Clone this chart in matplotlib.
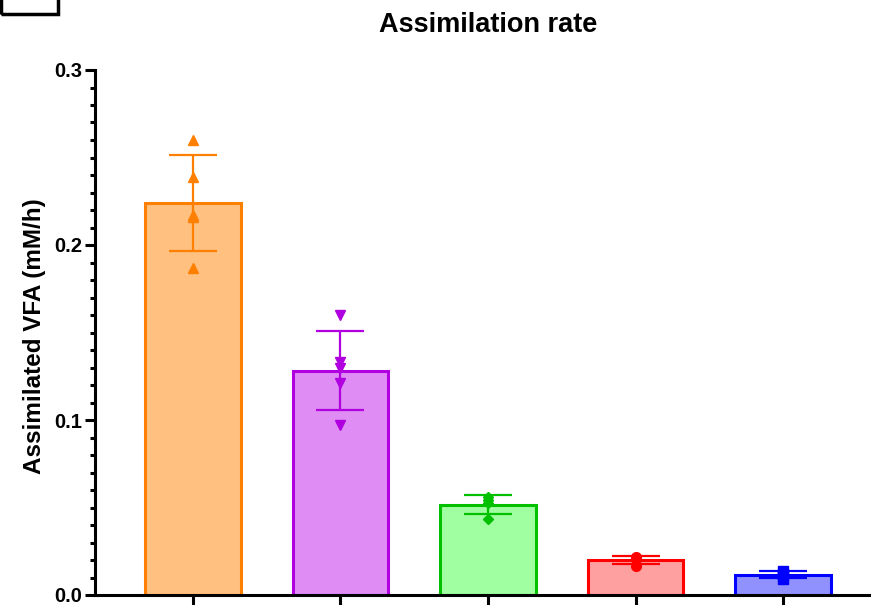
import numpy as np
import matplotlib
matplotlib.use('Agg')
import matplotlib.pyplot as plt
from matplotlib.patches import Rectangle
from matplotlib.ticker import MultipleLocator

plt.rcParams['font.family'] = ['Liberation Sans', 'DejaVu Sans']

# replicate values (mM/h)
orange_pts = [0.260, 0.239, 0.217, 0.216, 0.187]
purple_pts = [0.160, 0.133, 0.130, 0.121, 0.097]
green_pts = [0.056, 0.0545, 0.0525, 0.0435]
red_pts = [0.0218, 0.021, 0.0205, 0.0168]
blue_pts = [0.0138, 0.012, 0.0113, 0.0094]

groups = [orange_pts, purple_pts, green_pts, red_pts, blue_pts]
edge_colors = ['#FF8000', '#B000E0', '#00C000', '#FF0000', '#0000FF']
fill_colors = ['#FFC080', '#DF8CF5', '#A0FFA0', '#FFA0A0', '#9090FF']
markers = ['^', 'v', 'D', 'o', 's']

fig = plt.figure(figsize=(8.71, 6.05), dpi=100)
ax = fig.add_axes([95 / 871, 10 / 605, (881 - 95) / 871, (595 - 70) / 605])

x = np.arange(len(groups))
means = [np.mean(g) for g in groups]
sds = [np.std(g, ddof=1) for g in groups]

ax.bar(x, means, width=0.65, color=fill_colors, edgecolor=edge_colors,
       linewidth=2.2, zorder=2)
for i, g in enumerate(groups):
    ax.errorbar(x[i], means[i], yerr=sds[i], color=edge_colors[i],
                elinewidth=1.6, capsize=17, capthick=1.6, zorder=3)
    ax.plot([x[i]] * len(g), g, linestyle='none', marker=markers[i],
            color=edge_colors[i], markersize=7 if markers[i] != 'D' else 5.5,
            zorder=4)

ax.set_xlim(-0.664, 4.664)
ax.set_ylim(0, 0.3)
ax.yaxis.set_major_locator(MultipleLocator(0.1))
ax.yaxis.set_minor_locator(MultipleLocator(0.01))
ax.yaxis.set_major_formatter(matplotlib.ticker.FormatStrFormatter('%.1f'))
ax.set_xticks(x)
ax.set_xticklabels([])

for s in ['top', 'right']:
    ax.spines[s].set_visible(False)
for s in ['left', 'bottom']:
    ax.spines[s].set_linewidth(2.2)
ax.tick_params(axis='y', which='major', length=7.5, width=2.2,
               labelsize=14.5, pad=1.5)
ax.tick_params(axis='y', which='minor', length=3.5, width=2.2)
ax.tick_params(axis='x', which='major', length=7, width=2.2)
for lbl in ax.get_yticklabels():
    lbl.set_fontweight('bold')

fig.text(35 / 871, 1 - 336 / 605, 'Assimilated VFA (mM/h)', rotation=90,
         ha='center', va='center', fontsize=17.5, fontweight='bold')
fig.text(488 / 871, 1 - 32 / 605, 'Assimilation rate', ha='center',
         va='baseline', fontsize=19.5, fontweight='bold')

# corner of the panel label box cropped at the top left
fig.patches.append(Rectangle((1 / 871, (605 - 14) / 605), 57 / 871, 30 / 605,
                             transform=fig.transFigure, fill=False,
                             edgecolor='black', linewidth=2.5))

fig.savefig('out.png', dpi=100)
